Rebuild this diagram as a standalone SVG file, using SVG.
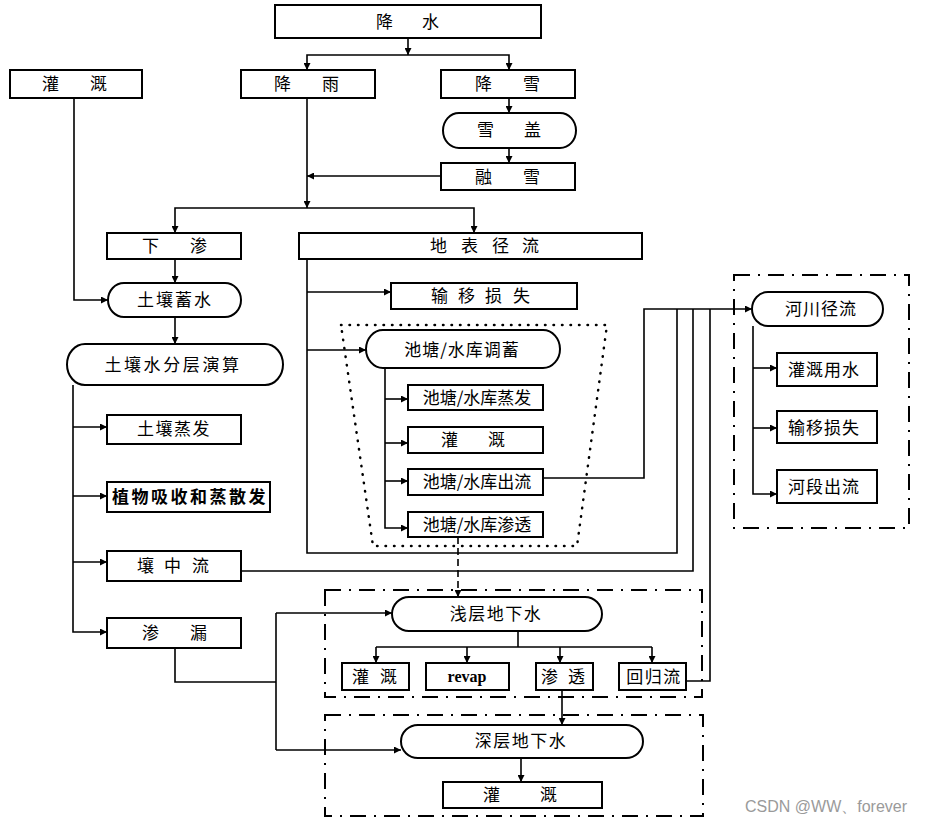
<svg xmlns="http://www.w3.org/2000/svg" width="928" height="825" viewBox="0 0 928 825">
<style>
.b{fill:#fff;stroke:#000;stroke-width:2}
.t{font-family:"Noto Sans CJK SC","Noto Sans",sans-serif;font-size:17px;fill:#000}
.m{text-anchor:middle}
.c{fill:none;stroke:#000;stroke-width:1.6}
.dd{fill:none;stroke:#000;stroke-width:2;stroke-dasharray:16 8 2 8}
.dot{fill:none;stroke:#000;stroke-width:2.5;stroke-linecap:round;stroke-dasharray:0.5 8}
</style>
<defs>
<marker id="a" viewBox="0 0 10 10" refX="10" refY="5" markerWidth="10" markerHeight="7" markerUnits="userSpaceOnUse" orient="auto"><path d="M0 0L10 5L0 10z"/></marker>
</defs>
<rect width="928" height="825" fill="#fff"/>

<!-- containers -->
<g id="frames">
<path class="dot" d="M341 325 H607 L577 546 H373 Z"/>
<rect class="dd" x="734" y="275" width="175" height="253"/>
<rect class="dd" x="325" y="590" width="377" height="107"/>
<rect class="dd" x="325" y="715" width="378" height="101"/>
</g>

<g id="connectors">
<path class="c" d="M408 38 V55" marker-end="url(#a)"/>
<path class="c" d="M408 55 H307 V70" marker-end="url(#a)"/>
<path class="c" d="M408 55 H509 V70" marker-end="url(#a)"/>
<path class="c" d="M509 98 V113" marker-end="url(#a)"/>
<path class="c" d="M509 148 V163" marker-end="url(#a)"/>
<path class="c" d="M441 176 H307" marker-end="url(#a)"/>
<path class="c" d="M307 98 V208" marker-end="url(#a)"/>
<path class="c" d="M307 208 H175 V233" marker-end="url(#a)"/>
<path class="c" d="M307 208 H474 V233" marker-end="url(#a)"/>
<path class="c" d="M175 259 V283" marker-end="url(#a)"/>
<path class="c" d="M74 98 V300 H108" marker-end="url(#a)"/>
<path class="c" d="M175 317 V344" marker-end="url(#a)"/>
<path class="c" d="M73 385 V632 H107" marker-end="url(#a)"/>
<path class="c" d="M73 427 H107" marker-end="url(#a)"/>
<path class="c" d="M73 496 H107" marker-end="url(#a)"/>
<path class="c" d="M73 562 H107" marker-end="url(#a)"/>
<path class="c" d="M241 571 H693 V309"/>
<path class="c" d="M175 648 V682 H276"/>
<path class="c" d="M276 613 V750"/>
<path class="c" d="M276 613 H392" marker-end="url(#a)"/>
<path class="c" d="M276 750 H401" marker-end="url(#a)"/>
<path class="c" d="M307 259 V553 H677 V309"/>
<path class="c" d="M307 292 H391" marker-end="url(#a)"/>
<path class="c" d="M307 350 H366" marker-end="url(#a)"/>
<path class="c" d="M385 368 V528 H408" marker-end="url(#a)"/>
<path class="c" d="M385 399 H408" marker-end="url(#a)"/>
<path class="c" d="M385 443 H408" marker-end="url(#a)"/>
<path class="c" d="M385 481 H408" marker-end="url(#a)"/>
<path class="c" d="M543 478 H644 V309 H752" marker-end="url(#a)"/>
<path class="c" d="M686 681 H710 V309"/>
<path class="c" d="M458 537 V597" stroke-dasharray="7 4" marker-end="url(#a)"/>
<path class="c" d="M753 326 V494 H777" marker-end="url(#a)"/>
<path class="c" d="M753 368 H777" marker-end="url(#a)"/>
<path class="c" d="M753 428 H777" marker-end="url(#a)"/>
<path class="c" d="M518 631 V647"/>
<path class="c" d="M376 647 H652"/>
<path class="c" d="M376 647 V663" marker-end="url(#a)"/>
<path class="c" d="M467 647 V663" marker-end="url(#a)"/>
<path class="c" d="M560 647 V663" marker-end="url(#a)"/>
<path class="c" d="M652 647 V663" marker-end="url(#a)"/>
<path class="c" d="M562 690 V725" marker-end="url(#a)"/>
<path class="c" d="M521 758 V782" marker-end="url(#a)"/>
</g>

<g id="n-jiangshui"><rect class="b" x="275" y="5" width="266" height="33"/><text class="t" x="376" y="28">降 <tspan x="422">水</tspan></text></g>
<g id="n-guangai-top"><rect class="b" x="10" y="70" width="132" height="28"/><text class="t" x="42" y="90">灌 <tspan x="90">溉</tspan></text></g>
<g id="n-jiangyu"><rect class="b" x="241" y="70" width="134" height="28"/><text class="t" x="274" y="90">降 <tspan x="322">雨</tspan></text></g>
<g id="n-jiangxue"><rect class="b" x="441" y="70" width="134" height="28"/><text class="t" x="475" y="90">降 <tspan x="523">雪</tspan></text></g>
<g id="n-xuegai"><rect class="b" x="443" y="113" width="133" height="35" rx="16" ry="17.5"/><text class="t" x="477" y="136">雪 <tspan x="524">盖</tspan></text></g>
<g id="n-rongxue"><rect class="b" x="441" y="163" width="134" height="27"/><text class="t" x="475" y="183">融 <tspan x="523">雪</tspan></text></g>
<g id="n-xiashen"><rect class="b" x="107" y="233" width="134" height="26"/><text class="t" x="142" y="252">下 <tspan x="190">渗</tspan></text></g>
<g id="n-dibiao"><rect class="b" x="299" y="233" width="343" height="26"/><text class="t" x="430" y="252">地 <tspan x="461">表</tspan> <tspan x="492">径</tspan> <tspan x="522">流</tspan></text></g>
<g id="n-turangxushui"><rect class="b" x="108" y="283" width="133" height="34" rx="16" ry="17"/><text class="t m" x="175" y="306" letter-spacing="2">土壤蓄水</text></g>
<g id="n-fenceng"><rect class="b" x="67" y="344" width="216" height="41" rx="18" ry="20.5"/><text class="t m" x="173" y="371" letter-spacing="2.6">土壤水分层演算</text></g>
<g id="n-zhengfa"><rect class="b" x="107" y="415" width="134" height="29"/><text class="t m" x="174" y="435" letter-spacing="1.5">土壤蒸发</text></g>
<g id="n-zhiwu"><rect class="b" x="107" y="482" width="163" height="30"/><text class="t m" x="190" y="503" letter-spacing="2.5" font-weight="bold">植物吸收和蒸散发</text></g>
<g id="n-rangzhongliu"><rect class="b" x="107" y="551" width="134" height="30"/><text class="t" x="137" y="572">壤 <tspan x="164">中</tspan> <tspan x="192">流</tspan></text></g>
<g id="n-shenlou"><rect class="b" x="107" y="618" width="134" height="30"/><text class="t" x="142" y="639">渗 <tspan x="190">漏</tspan></text></g>
<g id="n-shuyi"><rect class="b" x="391" y="283" width="186" height="26"/><text class="t" x="431" y="302">输 <tspan x="458">移</tspan> <tspan x="485">损</tspan> <tspan x="513">失</tspan></text></g>
<g id="n-tiaoxu"><rect class="b" x="366" y="330" width="194" height="38" rx="17" ry="19"/><text class="t m" x="462" y="356" letter-spacing="1">池塘/水库调蓄</text></g>
<g id="n-ct-zhengfa"><rect class="b" x="408" y="385" width="135" height="25"/><text class="t m" x="477" y="404">池塘/水库蒸发</text></g>
<g id="n-ct-guangai"><rect class="b" x="408" y="427" width="135" height="26"/><text class="t" x="441" y="446">灌 <tspan x="488">溉</tspan></text></g>
<g id="n-ct-chuliu"><rect class="b" x="408" y="469" width="135" height="26"/><text class="t m" x="477" y="488">池塘/水库出流</text></g>
<g id="n-ct-shentou"><rect class="b" x="408" y="512" width="135" height="25"/><text class="t m" x="477" y="531">池塘/水库渗透</text></g>
<g id="n-hechuan"><rect class="b" x="752" y="292" width="131" height="34" rx="16" ry="17"/><text class="t m" x="821" y="315" letter-spacing="1">河川径流</text></g>
<g id="n-guangaiyongshui"><rect class="b" x="777" y="353" width="100" height="33"/><text class="t m" x="824" y="376" letter-spacing="1">灌溉用水</text></g>
<g id="n-shuyi2"><rect class="b" x="777" y="411" width="100" height="32"/><text class="t m" x="824" y="434" letter-spacing="1">输移损失</text></g>
<g id="n-heduan"><rect class="b" x="777" y="470" width="100" height="33"/><text class="t m" x="824" y="493" letter-spacing="1">河段出流</text></g>
<g id="n-qianceng"><rect class="b" x="392" y="597" width="210" height="34" rx="17" ry="17"/><text class="t m" x="496" y="620" letter-spacing="1.5">浅层地下水</text></g>
<g id="n-q-guangai"><rect class="b" x="342" y="663" width="67" height="27"/><text class="t" x="352" y="683">灌 <tspan x="380">溉</tspan></text></g>
<g id="n-revap"><rect class="b" x="426" y="663" width="83" height="27"/><text x="467" y="682" text-anchor="middle" font-family="'Liberation Serif',serif" font-weight="bold" font-size="16">revap</text></g>
<g id="n-q-shentou"><rect class="b" x="536" y="663" width="57" height="27"/><text class="t" x="541" y="683">渗 <tspan x="568">透</tspan></text></g>
<g id="n-huiguiliu"><rect class="b" x="619" y="663" width="67" height="27"/><text class="t m" x="654" y="683" letter-spacing="1.5">回归流</text></g>
<g id="n-shenceng"><rect class="b" x="401" y="725" width="242" height="33" rx="17" ry="16.5"/><text class="t m" x="521" y="747" letter-spacing="1.5">深层地下水</text></g>
<g id="n-s-guangai"><rect class="b" x="443" y="782" width="159" height="26"/><text class="t" x="483" y="801">灌 <tspan x="540">溉</tspan></text></g>

<text x="745" y="812" font-family="'Liberation Sans',sans-serif" font-size="16" fill="#9a9a9a">CSDN @WW、forever</text>
</svg>
